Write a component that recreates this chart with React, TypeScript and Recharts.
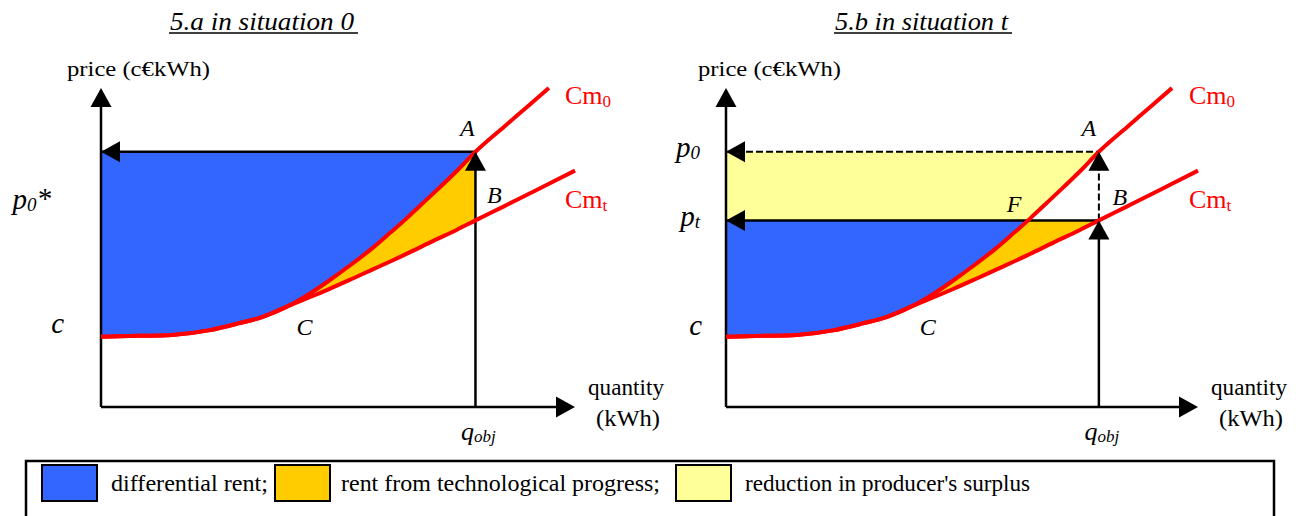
import React from "react";
import {
  ComposedChart,
  Line,
  Area,
  XAxis,
  YAxis,
  ReferenceLine,
  ReferenceDot,
} from "recharts";

// quantity grid (x) and the two marginal-cost curves
const QTY = [0, 8, 15, 23, 29, 34, 40, 44, 48, 53, 57, 61, 64, 65, 70, 75, 79, 85, 90, 94.5, 100];
const CM0 = [22, 22.3, 22.6, 24.1, 26.2, 28.2, 32, 35.5, 39.5, 44.9, 49.5, 54.6, 58.5, 59.9, 66.8, 73.9, 80, 87.8, 94.2, 100, null];
const CMT = [22, 22.3, 22.6, 24.1, 26.2, 28.2, 32, 34.4, 36.9, 40.2, 42.9, 45.6, 47.7, 48.4, 52, 55.5, 58.5, 62.9, 66.6, 70, 74.1];

const P0 = 80; // price in situation 0 (point A)
const PT = 58.5; // price in situation t (point B)
const QOBJ = 79; // target quantity
const Q_C = 40; // point C, where the curves split
const Q_F = 64; // point F, Cm0 crosses pt
const C_LEVEL = 22;

const BLUE = "#3366FF";
const ORANGE = "#FFCC00";
const YELLOW = "#FFFF99";
const RED = "#FF0000";
const SERIF = "'Liberation Serif', Tinos, 'Times New Roman', Times, 'DejaVu Serif', serif";

const LEGEND = [
  { color: BLUE, text: "differential rent;" },
  { color: ORANGE, text: "rent from technological progress;" },
  { color: YELLOW, text: "reduction in producer's surplus" },
];

const rowsA = QTY.map((q, i) => ({
  q,
  cm0: CM0[i],
  cmt: CMT[i],
  blue: q <= QOBJ ? [CM0[i], P0] : null,
  orange: q >= Q_C && q <= QOBJ ? [CMT[i], CM0[i]] : null,
}));

const rowsB = QTY.map((q, i) => {
  const m0 = CM0[i] as number;
  const mt = CMT[i];
  return {
    q,
    cm0: CM0[i],
    cmt: mt,
    yellow: q <= QOBJ ? [Math.max(m0, PT), P0] : null,
    blue: q <= Q_F ? [m0, PT] : null,
    orange: q >= Q_C && q <= QOBJ ? [mt, Math.min(m0, PT)] : null,
  };
});

type Pt = { cx?: number; cy?: number };

function arrow(dir: "up" | "left" | "right") {
  return ({ cx = 0, cy = 0 }: Pt) => {
    const L = 19;
    const H = 10.5;
    const pts =
      dir === "up"
        ? [[cx, cy], [cx - H, cy + L], [cx + H, cy + L]]
        : dir === "left"
        ? [[cx, cy], [cx + L, cy - H], [cx + L, cy + H]]
        : [[cx, cy], [cx - L, cy - H], [cx - L, cy + H]];
    return <polygon points={pts.map((p) => p.join(",")).join(" ")} fill="#000" />;
  };
}

function label(
  content: React.ReactNode,
  dx: number,
  dy: number,
  opts: { size?: number; italic?: boolean; color?: string; anchor?: "start" | "middle" | "end"; len?: number } = {}
) {
  const { size = 24, italic = true, color = "#000", anchor = "middle", len } = opts;
  return ({ cx = 0, cy = 0 }: Pt) => (
    <text
      x={cx + dx}
      y={cy + dy}
      style={{ fontFamily: SERIF, fontSize: size, fontStyle: italic ? "italic" : "normal" }}
      fill={color}
      textAnchor={anchor}
      textLength={len}
      lengthAdjust={len ? "spacingAndGlyphs" : undefined}
    >
      {content}
    </text>
  );
}

const cm = (sub: string) => (
  <>
    Cm<tspan style={{ fontSize: 17 }} dy={3}>{sub}</tspan>
  </>
);

const pSub = (sub: string, star = false) => (
  <>
    p<tspan style={{ fontSize: 19 }} dy={2}>{sub}</tspan>
    {star ? <tspan dy={-3}>*</tspan> : null}
  </>
);

type TickOpt = { node: React.ReactNode; dx: number; dy: number };

function yTick(map: Record<number, TickOpt>) {
  return (props: any) => {
    const { x, y, payload } = props;
    const o = map[payload.value];
    if (!o) return <g />;
    return (
      <text
        x={x + o.dx}
        y={y + o.dy}
        style={{ fontFamily: SERIF, fontSize: 29, fontStyle: "italic" }}
        textAnchor="end"
        fill="#000"
      >
        {o.node}
      </text>
    );
  };
}

const qTick = (props: any) => {
  const { x, y } = props;
  return (
    <text x={x + 3} y={y + 33} style={{ fontFamily: SERIF, fontSize: 26, fontStyle: "italic" }} textAnchor="middle" fill="#000">
      q<tspan style={{ fontSize: 17 }} dy={2}>obj</tspan>
    </text>
  );
};

const AXIS = { stroke: "#000", strokeWidth: 2.5 };

function axisParts(priceDx: number) {
  return [
    <ReferenceLine key="ya" segment={[{ x: 0, y: 0 }, { x: 0, y: 98 }]} {...AXIS} />,
    <ReferenceLine key="xa" segment={[{ x: 0, y: 0 }, { x: 98, y: 0 }]} {...AXIS} />,
    <ReferenceDot key="yarr" x={0} y={100} r={0} shape={arrow("up")} />,
    <ReferenceDot key="xarr" x={100} y={0} r={0} shape={arrow("right")} />,
    <ReferenceDot
      key="price"
      x={0}
      y={100}
      r={0}
      shape={label("price (c€kWh)", priceDx, -12, { italic: false, size: 22, anchor: "start", len: 143 })}
    />,
    <ReferenceDot key="qty" x={100} y={0} r={0} shape={label("quantity", 51, -12, { italic: false, size: 23, len: 76 })} />,
    <ReferenceDot key="kwh" x={100} y={0} r={0} shape={label("(kWh)", 53, 19, { italic: false, size: 23, len: 64 })} />,
  ];
}

function curves() {
  return [
    <Line key="cm0" dataKey="cm0" type="monotone" stroke={RED} strokeWidth={4} dot={false} activeDot={false} isAnimationActive={false} />,
    <Line key="cmt" dataKey="cmt" type="monotone" stroke={RED} strokeWidth={4} dot={false} activeDot={false} isAnimationActive={false} />,
  ];
}

function areaOf(key: string, color: string) {
  return (
    <Area
      key={key}
      dataKey={key}
      type="monotone"
      stroke="none"
      fill={color}
      fillOpacity={1}
      dot={false}
      activeDot={false}
      isAnimationActive={false}
    />
  );
}

function PanelA() {
  return (
    <ComposedChart width={700} height={455} data={rowsA} margin={{ top: 88, right: 125, bottom: 0, left: 0 }}>
      <XAxis dataKey="q" type="number" domain={[0, 100]} ticks={[QOBJ]} interval={0} tick={qTick} tickSize={0} tickMargin={0} axisLine={false} tickLine={false} height={48} />
      <YAxis
        type="number"
        domain={[0, 100]}
        ticks={[C_LEVEL, P0]}
        interval={0}
        width={101}
        axisLine={false}
        tickLine={false}
        tickSize={0}
        tickMargin={0}
        tick={yTick({
          [P0]: { node: pSub("0", true), dx: -50, dy: 57 },
          [C_LEVEL]: { node: "c", dx: -37, dy: -4 },
        })}
      />
      {areaOf("blue", BLUE)}
      {areaOf("orange", ORANGE)}
      <ReferenceLine segment={[{ x: 0, y: P0 }, { x: QOBJ, y: P0 }]} {...AXIS} />
      <ReferenceLine segment={[{ x: QOBJ, y: 0 }, { x: QOBJ, y: P0 }]} {...AXIS} />
      {axisParts(-34)}
      {curves()}
      <ReferenceDot x={0} y={P0} r={0} shape={arrow("left")} />
      <ReferenceDot x={QOBJ} y={P0} r={0} shape={arrow("up")} />
      <ReferenceDot x={QOBJ} y={P0} r={0} shape={label("A", -8, -16)} />
      <ReferenceDot x={QOBJ} y={PT} r={0} shape={label("B", 19, -17)} />
      <ReferenceDot x={Q_C} y={CM0[QTY.indexOf(Q_C)] as number} r={0} shape={label("C", 14, 30)} />
      <ReferenceDot x={94.5} y={100} r={0} shape={label(cm("0"), 16, 16, { italic: false, size: 26, color: RED, anchor: "start" })} />
      <ReferenceDot x={100} y={74.1} r={0} shape={label(cm("t"), -10, 37, { italic: false, size: 26, color: RED, anchor: "start" })} />
    </ComposedChart>
  );
}

function PanelB() {
  return (
    <ComposedChart width={650} height={455} data={rowsB} margin={{ top: 88, right: 102, bottom: 0, left: 0 }}>
      <XAxis dataKey="q" type="number" domain={[0, 100]} ticks={[QOBJ]} interval={0} tick={qTick} tickSize={0} tickMargin={0} axisLine={false} tickLine={false} height={48} />
      <YAxis
        type="number"
        domain={[0, 100]}
        ticks={[C_LEVEL, PT, P0]}
        interval={0}
        width={76}
        axisLine={false}
        tickLine={false}
        tickSize={0}
        tickMargin={0}
        tick={yTick({
          [P0]: { node: pSub("0"), dx: -26, dy: 5 },
          [PT]: { node: pSub("t"), dx: -26, dy: 6 },
          [C_LEVEL]: { node: "c", dx: -24, dy: -2 },
        })}
      />
      {areaOf("yellow", YELLOW)}
      {areaOf("blue", BLUE)}
      {areaOf("orange", ORANGE)}
      <ReferenceLine segment={[{ x: 0, y: P0 }, { x: QOBJ, y: P0 }]} stroke="#000" strokeWidth={2} strokeDasharray="7 3" />
      <ReferenceLine segment={[{ x: QOBJ, y: PT }, { x: QOBJ, y: P0 }]} stroke="#000" strokeWidth={2} strokeDasharray="7 3" />
      <ReferenceLine segment={[{ x: 0, y: PT }, { x: QOBJ, y: PT }]} {...AXIS} />
      <ReferenceLine segment={[{ x: QOBJ, y: 0 }, { x: QOBJ, y: PT }]} {...AXIS} />
      {axisParts(-28)}
      {curves()}
      <ReferenceDot x={0} y={P0} r={0} shape={arrow("left")} />
      <ReferenceDot x={0} y={PT} r={0} shape={arrow("left")} />
      <ReferenceDot x={QOBJ} y={P0} r={0} shape={arrow("up")} />
      <ReferenceDot x={QOBJ} y={PT} r={0} shape={arrow("up")} />
      <ReferenceDot x={QOBJ} y={P0} r={0} shape={label("A", -10, -16)} />
      <ReferenceDot x={QOBJ} y={PT} r={0} shape={label("B", 21, -15)} />
      <ReferenceDot x={Q_F} y={PT} r={0} shape={label("F", -14, -8)} />
      <ReferenceDot x={Q_C} y={CM0[QTY.indexOf(Q_C)] as number} r={0} shape={label("C", 13, 30)} />
      <ReferenceDot x={94.5} y={100} r={0} shape={label(cm("0"), 17, 16, { italic: false, size: 26, color: RED, anchor: "start" })} />
      <ReferenceDot x={100} y={74.1} r={0} shape={label(cm("t"), -9, 37, { italic: false, size: 26, color: RED, anchor: "start" })} />
    </ComposedChart>
  );
}

function Title({ x, w, text }: { x: number; w: number; text: string }) {
  return (
    <g>
      <text
        x={x}
        y={30}
        style={{ fontFamily: SERIF, fontSize: 26, fontStyle: "italic" }}
        textLength={w - 4}
        lengthAdjust="spacingAndGlyphs"
      >
        {text}
      </text>
      <line x1={x - 1} x2={x + w} y1={33} y2={33} stroke="#000" strokeWidth={1.5} />
    </g>
  );
}

export default function App() {
  const swatchX = [42, 275, 676];
  const textX = [111, 341, 745];
  const textW = [157, 319, 285];
  return (
    <div
      style={{
        position: "absolute",
        left: 0,
        top: 0,
        width: 1300,
        height: 516,
        background: "#fff",
        overflow: "hidden",
        fontFamily: SERIF,
      }}
    >
      <svg width={1300} height={40} style={{ position: "absolute", left: 0, top: 0 }}>
        <Title x={170} w={188} text="5.a in situation 0" />
        <Title x={835} w={177} text="5.b in situation t" />
      </svg>
      <div style={{ position: "absolute", left: 0, top: 0 }}>
        <PanelA />
      </div>
      <div style={{ position: "absolute", left: 650, top: 0 }}>
        <PanelB />
      </div>
      <svg width={1300} height={60} style={{ position: "absolute", left: 0, top: 456 }}>
        <path d="M26 60 V5 H1274 V60" fill="none" stroke="#000" strokeWidth={2.5} />
        {LEGEND.map((item, i) => (
          <g key={item.text}>
            <rect x={swatchX[i]} y={9} width={55} height={36} fill={item.color} stroke="#000" strokeWidth={2} />
            <text x={textX[i]} y={35} style={{ fontFamily: SERIF, fontSize: 24 }} textLength={textW[i]} lengthAdjust="spacingAndGlyphs">
              {item.text}
            </text>
          </g>
        ))}
      </svg>
    </div>
  );
}
